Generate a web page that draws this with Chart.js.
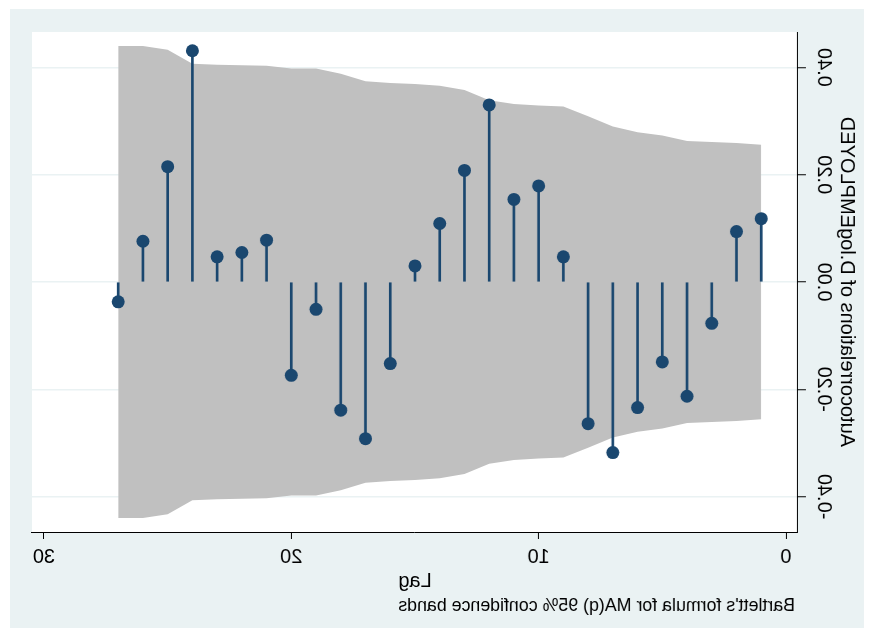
<!DOCTYPE html>
<html>
<head>
<meta charset="utf-8">
<script src="https://cdn.jsdelivr.net/npm/chart.js@4.4.1/dist/chart.umd.min.js"></script>
<style>
  html, body { margin: 0; padding: 0; background: #fff; }
  #wrap { width: 874px; height: 637px; }
  /* the reference is a left-right mirror image of a Stata correlogram */
  #acf { transform: scaleX(-1); }
</style>
</head>
<body>
<div id="wrap"><canvas id="acf" width="874" height="637"></canvas></div>
<script>
const lags = [1, 2, 3, 4, 5, 6, 7, 8, 9, 10, 11, 12, 13, 14, 15, 16, 17, 18, 19, 20, 21, 22, 23, 24, 25, 26, 27];
const acValues = [0.118, 0.094, -0.077, -0.213, -0.149, -0.234, -0.318, -0.264, 0.047, 0.179,
                  0.154, 0.330, 0.208, 0.109, 0.030, -0.152, -0.292, -0.239, -0.051, -0.174,
                  0.078, 0.055, 0.047, 0.431, 0.215, 0.076, -0.037];
// Bartlett 95% band (upper edge; the lower edge is its mirror)
const bandUpper = [0.256, 0.259, 0.261, 0.263, 0.273, 0.279, 0.290, 0.309, 0.327, 0.329,
                   0.332, 0.339, 0.358, 0.366, 0.369, 0.371, 0.374, 0.388, 0.398, 0.398,
                   0.403, 0.404, 0.405, 0.407, 0.433, 0.440, 0.440];
const xTicks = [0, 10, 20, 30];
const yTicks = [-0.4, -0.2, 0, 0.2, 0.4];
const xTitle = 'Lag';
const yTitle = 'Autocorrelations of D.logEMPLOYED';
const noteText = "Bartlett's formula for MA(q) 95% confidence bands";

const FONT = 'Liberation Sans';
const NAVY = '#1a476f';

const backdrop = {
    id: 'backdrop',
    beforeDraw(chart) {
        const { ctx, chartArea: a } = chart;
        ctx.save();
        ctx.fillStyle = '#ffffff';
        ctx.fillRect(0, 0, chart.width, chart.height);
        ctx.fillStyle = '#eaf2f3';
        ctx.fillRect(10, 9, chart.width - 20, chart.height - 18);
        ctx.fillStyle = '#ffffff';
        ctx.fillRect(a.left, a.top, a.right - a.left, a.bottom - a.top);
        ctx.restore();
    }
};

const note = {
    id: 'note',
    afterDraw(chart) {
        const { ctx, chartArea } = chart;
        ctx.save();
        ctx.font = '17.8px "' + FONT + '"';
        ctx.fillStyle = '#000';
        ctx.textAlign = 'left';
        ctx.textBaseline = 'middle';
        ctx.fillText(noteText, chartArea.left + 3, 606);
        ctx.restore();
    }
};

new Chart(document.getElementById('acf'), {
    type: 'scatter',
    data: {
        datasets: [
            {
                type: 'line',
                data: lags.map((l, i) => ({ x: l, y: bandUpper[i] })),
                borderWidth: 0,
                pointRadius: 0,
                tension: 0,
                fill: '+1',
                backgroundColor: '#c0c0c0',
                order: 3
            },
            {
                type: 'line',
                data: lags.map((l, i) => ({ x: l, y: -bandUpper[i] })),
                borderWidth: 0,
                pointRadius: 0,
                tension: 0,
                fill: false,
                order: 3
            },
            {
                type: 'bar',
                data: lags.map((l, i) => ({ x: l, y: [0, acValues[i]] })),
                backgroundColor: NAVY,
                borderWidth: 0,
                barThickness: 2,
                order: 2
            },
            {
                type: 'scatter',
                data: lags.map((l, i) => ({ x: l, y: acValues[i] })),
                backgroundColor: NAVY,
                borderWidth: 0,
                pointRadius: 6.5,
                order: 1
            }
        ]
    },
    options: {
        responsive: false,
        animation: false,
        devicePixelRatio: 1,
        layout: { padding: { top: 32, right: 32, bottom: 0, left: 0 } },
        plugins: {
            legend: { display: false },
            tooltip: { enabled: false }
        },
        scales: {
            x: {
                type: 'linear',
                min: -0.485,
                max: 30.485,
                offset: false,
                afterBuildTicks: s => { s.ticks = xTicks.map(v => ({ value: v })); },
                afterFit: s => { s.height = 105; },
                grid: { drawOnChartArea: false, offset: false, tickLength: 7, tickColor: '#000' },
                border: { color: '#000', width: 1 },
                ticks: {
                    color: '#000', font: { family: FONT, size: 20 }, padding: 6.5,
                    maxRotation: 0, autoSkip: false, callback: v => String(v)
                },
                title: {
                    display: true, text: xTitle, color: '#000',
                    font: { family: FONT, size: 20 }, padding: { top: 0, bottom: 44 }
                }
            },
            y: {
                type: 'linear',
                position: 'left',
                min: -0.466,
                max: 0.466,
                afterBuildTicks: s => { s.ticks = yTicks.map(v => ({ value: v })); },
                afterFit: s => { s.width = 76; },
                grid: { color: '#eaf2f3', lineWidth: 1.5, tickLength: 8, tickColor: '#000', tickWidth: 1 },
                border: { color: '#000', width: 1 },
                ticks: {
                    color: '#000', font: { family: FONT, size: 20 },
                    minRotation: 90, maxRotation: 90, crossAlign: 'center', padding: -4.8,
                    callback: v => v.toFixed(2)
                },
                title: {
                    display: true, text: yTitle, color: '#000',
                    font: { family: FONT, size: 20 }, padding: { top: 15, bottom: 0 }
                }
            }
        }
    },
    plugins: [backdrop, note]
});
</script>
</body>
</html>
